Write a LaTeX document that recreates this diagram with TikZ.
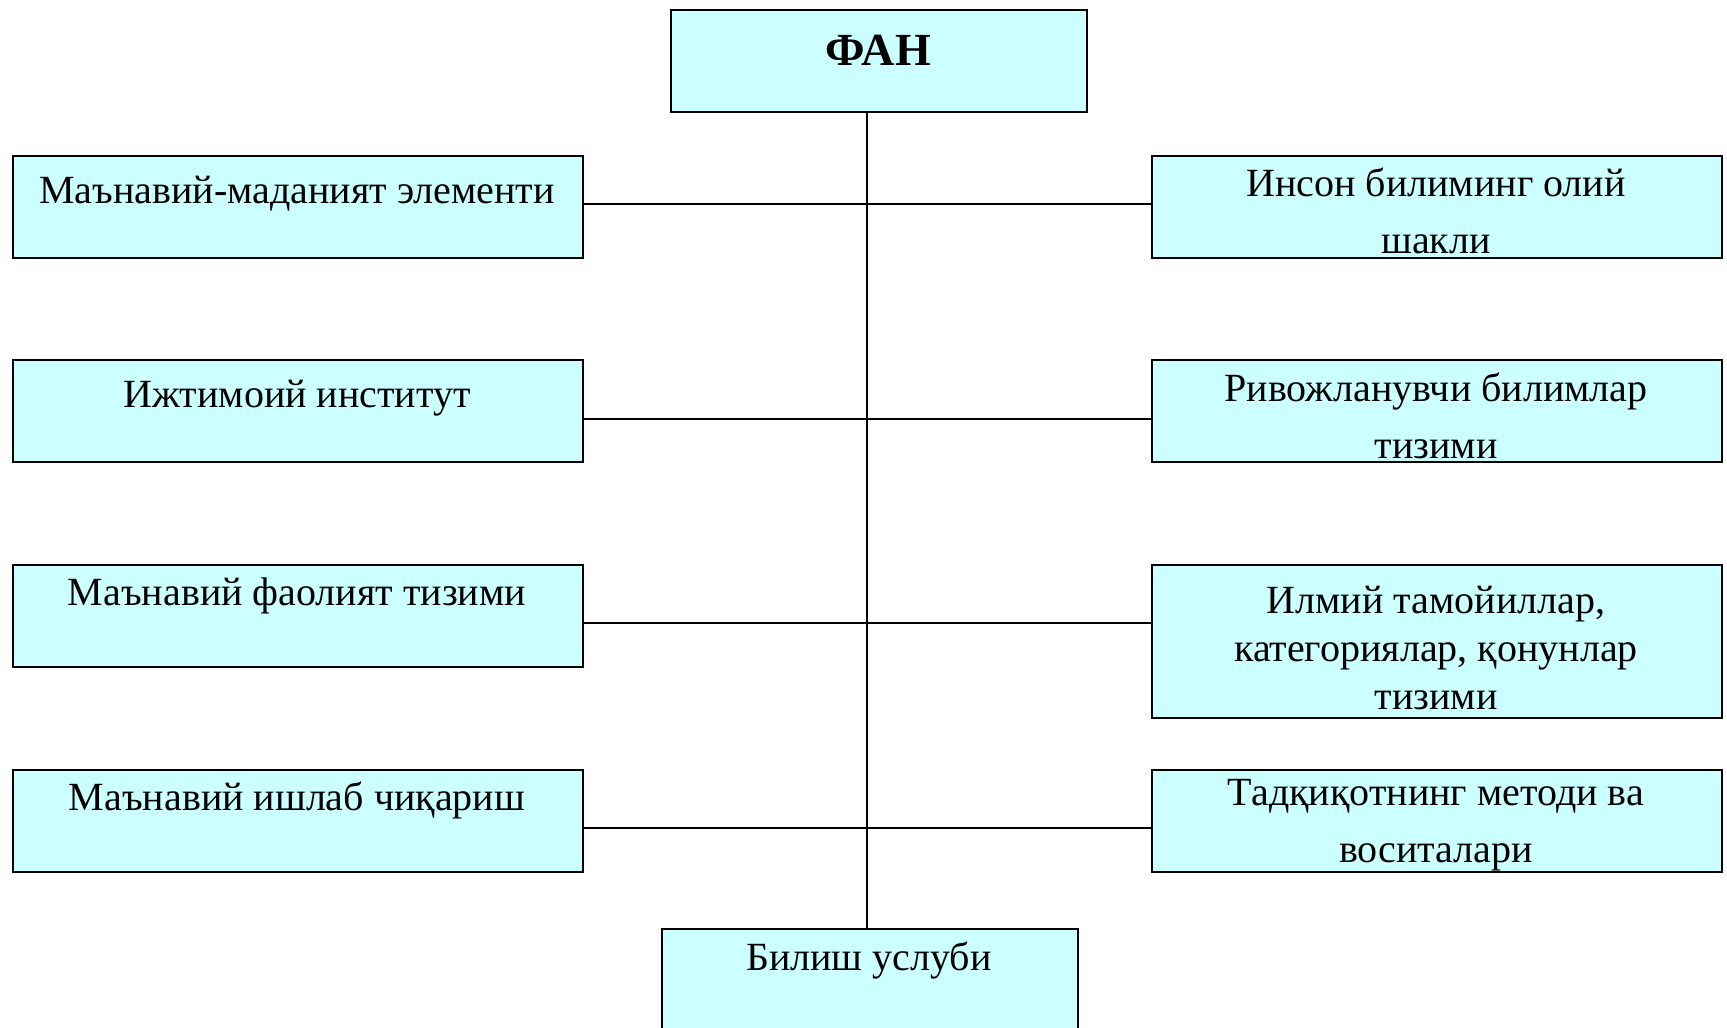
\documentclass[tikz,border=0pt]{standalone}
\usepackage{fontspec}
\setmainfont{Liberation Serif}
\definecolor{boxfill}{HTML}{CCFFFF}
\begin{document}
\begin{tikzpicture}[x=0.5pt,y=-0.5pt,
  box/.style={draw=black, line width=1.1pt, fill=boxfill, inner sep=0pt, anchor=north west},
  sidebox/.style={box, minimum width=285pt, minimum height=51pt},
  lbl/.style={font=\fontsize{20}{28.5}\selectfont, align=center, inner sep=0pt},
  lbltight/.style={font=\fontsize{20}{24}\selectfont, align=center, inner sep=0pt},
  conn/.style={line width=1pt}]
\useasboundingbox (0,0) rectangle (1727,1027);
% boxes
\node[box, minimum width=208pt, minimum height=51pt] (fan) at (670,9) {};
\node[box, minimum width=208pt, minimum height=60pt] (bil) at (661,928) {};
\node[sidebox] (l1) at (12,155) {};
\node[sidebox] (l2) at (12,359) {};
\node[sidebox] (l3) at (12,564) {};
\node[sidebox] (l4) at (12,769) {};
\node[sidebox] (r1) at (1151,155) {};
\node[sidebox] (r2) at (1151,359) {};
\node[sidebox, minimum height=76.5pt] (r3) at (1151,564) {};
\node[sidebox] (r4) at (1151,769) {};
% junctions on the trunk
\coordinate (j1) at (867,204);
\coordinate (j2) at (867,419);
\coordinate (j3) at (867,623);
\coordinate (j4) at (867,828);
% connectors
\draw[conn] (fan.south -| j1) -- (bil.north -| j1);
\draw[conn] (l1.east |- j1) -- (r1.west |- j1);
\draw[conn] (l2.east |- j2) -- (r2.west |- j2);
\draw[conn] (l3.east |- j3) -- (r3.west |- j3);
\draw[conn] (l4.east |- j4) -- (r4.west |- j4);
% texts
\node[lbl, font=\fontsize{23}{28}\selectfont\bfseries] (tfan) at (878,50) {ФАН};
\node[lbl] (tl1) at (297,194) {Маънавий-маданият элементи};
\node[lbl] (tl2) at (297,398) {Ижтимоий институт};
\node[lbl] (tl3) at (297,596) {Маънавий фаолият тизими};
\node[lbl] (tl4) at (297,800) {Маънавий ишлаб чиқариш};
\node[lbl] (tr1) at (1436,210.5) {Инсон билиминг олий\\шакли};
\node[lbl] (tr2) at (1436,416) {Ривожланувчи билимлар\\тизими};
\node[lbltight] (tr3) at (1436,648) {Илмий тамойиллар,\\категориялар, қонунлар\\тизими};
\node[lbl] (tr4) at (1436,825.5) {Тадқиқотнинг методи ва\\воситалари};
\node[lbl] (tbil) at (869,960) {Билиш услуби};
\end{tikzpicture}
\end{document}
